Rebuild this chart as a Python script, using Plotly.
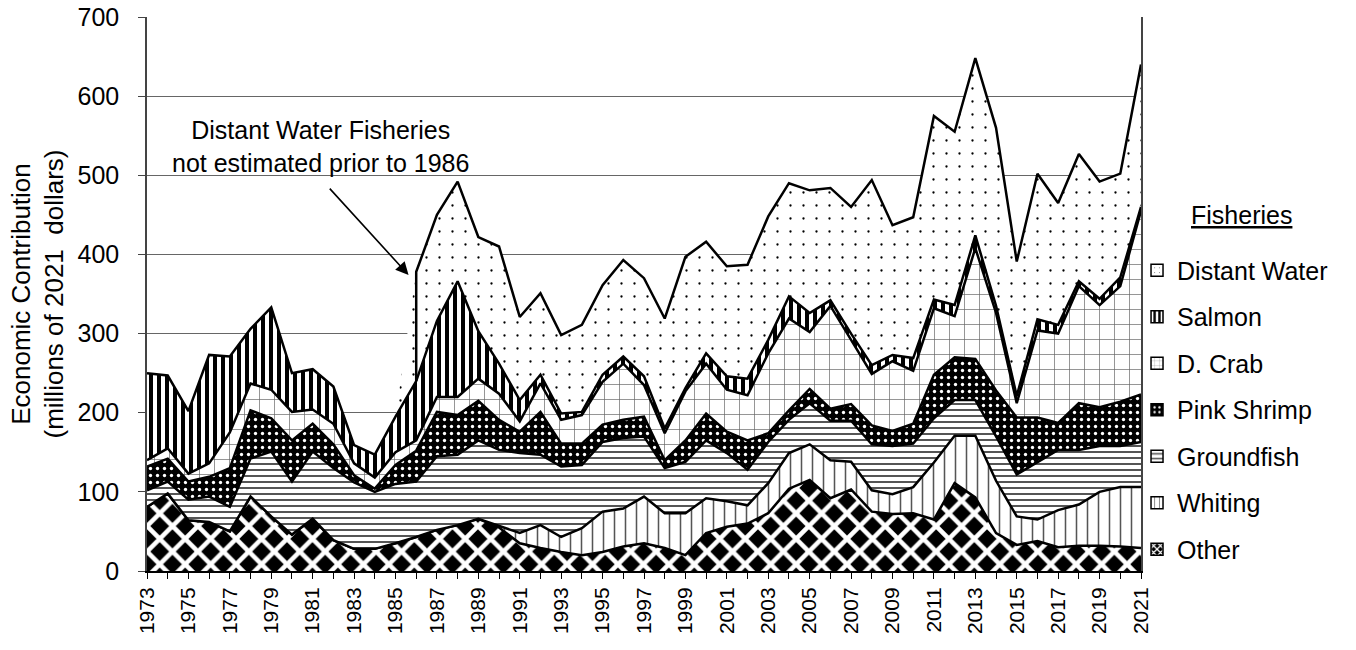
import numpy as np
import plotly.graph_objects as go

# ---------------- data (millions of 2021 dollars) ----------------
years = list(range(1973, 2022))
tick_years = list(range(1973, 2022, 2))

other = [81, 98, 64, 62, 50, 94, 69, 46, 66, 39,
         28, 28, 35, 43, 52, 58, 66, 55, 35, 29,
         24, 20, 24, 31, 35, 29, 20, 48, 56, 60,
         73, 104, 115, 92, 103, 75, 72, 73, 65, 111,
         93, 48, 33, 38, 30, 32, 32, 31, 29]
whiting = [0] * 17 + [2, 13, 29, 19, 34, 51, 48, 59, 44, 53,
                      44, 32, 23, 38, 45, 45, 48, 35, 27, 25,
                      33, 72, 60, 78, 66, 36, 27, 47, 52, 68,
                      75, 77]
groundfish = [21, 15, 26, 32, 31, 48, 82, 67, 85, 91,
              84, 72, 75, 70, 93, 89, 99, 96, 101, 89,
              89, 80, 88, 89, 76, 57, 65, 73, 61, 45,
              52, 42, 52, 50, 52, 58, 61, 55, 56, 45,
              45, 56, 53, 73, 76, 69, 58, 52, 57]
pink_shrimp = [30, 29, 23, 25, 49, 61, 42, 52, 35, 30,
               9, 4, 24, 39, 56, 50, 50, 38, 27, 54,
               29, 27, 22, 23, 25, 10, 27, 34, 27, 37,
               11, 12, 18, 15, 21, 24, 19, 25, 55, 54,
               52, 58, 72, 56, 34, 59, 49, 56, 60]
d_crab = [8, 13, 10, 17, 45, 34, 36, 36, 18, 26,
          15, 14, 16, 13, 19, 23, 28, 33, 13, 36,
          30, 36, 54, 71, 40, 34, 62, 63, 53, 57,
          101, 116, 72, 130, 81, 65, 88, 67, 84, 52,
          140, 98, 18, 110, 113, 148, 129, 146, 232]
salmon = [110, 92, 79, 137, 96, 69, 104, 49, 51, 47,
          23, 29, 45, 75, 96, 146, 60, 38, 27, 11,
          8, 4, 9, 9, 11, 6, 4, 13, 17, 21,
          17, 28, 24, 7, 8, 11, 8, 16, 11, 14,
          16, 9, 9, 14, 11, 6, 8, 11, 5]
distant_water = [0] * 13 + [138, 134, 126, 119, 148, 105, 103,
                            99, 110, 113, 122, 124, 139, 166, 141, 139, 144,
                            156, 143, 155, 142, 160, 234, 164, 178, 232, 219,
                            224, 225, 170, 184, 154, 161, 148, 131, 180]
dw_start_year = 1986

names = ["Other", "Whiting", "Groundfish", "Pink Shrimp", "D. Crab", "Salmon", "Distant Water"]
values = [other, whiting, groundfish, pink_shrimp, d_crab, salmon, distant_water]

# ---------------- styles ----------------
FONT = "Liberation Sans, Arial, sans-serif"
patterns = {
    "Other":         dict(shape="x", bgcolor="black", fgcolor="white", size=18, solidity=0.45),
    "Whiting":       dict(shape="|", bgcolor="white", fgcolor="#555555", size=11, solidity=0.14),
    "Groundfish":    dict(shape="-", bgcolor="white", fgcolor="#555555", size=6, solidity=0.33),
    "Pink Shrimp":   dict(shape=".", bgcolor="black", fgcolor="white", size=7, solidity=0.18),
    "D. Crab":       dict(shape="+", bgcolor="white", fgcolor="#666666", size=15, solidity=0.09),
    "Salmon":        dict(shape="|", bgcolor="white", fgcolor="black", size=8, solidity=0.5),
    "Distant Water": dict(shape=".", bgcolor="white", fgcolor="black", size=13, solidity=0.025),
}

fig = go.Figure()

for name, vals in zip(names, values):
    p = patterns[name]
    fig.add_trace(go.Scatter(
        x=years, y=vals, name=name, mode="lines", stackgroup="one",
        line=dict(color="black", width=0 if name == "Distant Water" else 2.5),
        fillcolor=p["bgcolor"],
        fillpattern=dict(shape=p["shape"], bgcolor=p["bgcolor"], fgcolor=p["fgcolor"],
                         fgopacity=1, size=p["size"], solidity=p["solidity"]),
        showlegend=False, hoverinfo="skip",
    ))

# top edge of Distant Water (only estimated from 1986)
cum = np.cumsum(np.array(values, dtype=float), axis=0)
total = cum[-1]
below_dw = cum[-2]
i0 = years.index(dw_start_year)
fig.add_trace(go.Scatter(
    x=[years[i0]] + years[i0:], y=[below_dw[i0]] + list(total[i0:]),
    mode="lines", line=dict(color="black", width=2.5),
    showlegend=False, hoverinfo="skip",
))

# legend entries (small patterned squares)
for name in reversed(names):
    p = patterns[name]
    fig.add_trace(go.Bar(
        x=[None], y=[None], name=name, legendgroup=name,
        marker=dict(color=p["bgcolor"],
                    pattern=dict(shape=p["shape"], bgcolor=p["bgcolor"], fgcolor=p["fgcolor"],
                                 fgopacity=1, size=min(p["size"], 6), solidity=p["solidity"]),
                    line=dict(color="black", width=1.5)),
        showlegend=True, hoverinfo="skip",
    ))

# annotation with arrow
fig.add_annotation(x=1981.4, y=536, xref="x", yref="y",
                   text="Distant Water Fisheries<br>not estimated prior to 1986",
                   showarrow=False, font=dict(family=FONT, size=25, color="black"),
                   align="center")
fig.add_annotation(x=1985.63, y=374, ax=1981.76, ay=485, xref="x", yref="y",
                   axref="x", ayref="y", text="", showarrow=True,
                   arrowhead=2, arrowsize=1.6, arrowwidth=1.6, arrowcolor="black")

# legend heading
fig.add_annotation(x=1.1016, y=0.6426, xref="paper", yref="paper",
                   xanchor="center", yanchor="middle",
                   text="<u>Fisheries</u>", showarrow=False,
                   font=dict(family=FONT, size=25, color="black"))

fig.update_layout(
    width=1356, height=650,
    margin=dict(l=147, r=215, t=17, b=79),
    paper_bgcolor="white", plot_bgcolor="white",
    font=dict(family=FONT, color="black"),
    showlegend=True,
    legend=dict(x=0.996, xanchor="left", y=0.584, yanchor="top",
                traceorder="grouped", tracegroupgap=11, itemwidth=30,
                font=dict(family=FONT, size=25, color="black"),
                bgcolor="rgba(0,0,0,0)"),
    xaxis=dict(type="linear", range=[1973, 2021], tickvals=tick_years,
               ticktext=[str(y) for y in tick_years], tickangle=-90,
               ticks="outside", ticklen=6, tickcolor="black", tickwidth=1,
               minor=dict(dtick=1, tick0=1973, ticks="outside", ticklen=6, tickcolor="black"),
               showgrid=False, showline=True, linecolor="black", linewidth=2,
               automargin=False, ticklabeloverflow="allow",
               tickfont=dict(family=FONT, size=21, color="black"), zeroline=False),
    yaxis=dict(range=[0, 700], dtick=100, ticks="outside", ticklen=7, tickcolor="#444",
               showgrid=True, gridcolor="#666666", gridwidth=1,
               showline=True, linecolor="#444", linewidth=1.5, mirror=True,
               ticklabelstandoff=14, zeroline=False, automargin=False,
               ticklabeloverflow="allow",
               tickfont=dict(family=FONT, size=25, color="black"),
               title=dict(text="Economic Contribution<br>(millions of 2021\u00a0 dollars)",
                          font=dict(family=FONT, size=26, color="black"), standoff=6)),
)

# remove the default 8px page margin so the figure fills the window exactly
fig.write_html("out.html",
               config={"displayModeBar": False},
               post_script="document.body.style.margin='0';document.body.style.overflow='hidden';")
